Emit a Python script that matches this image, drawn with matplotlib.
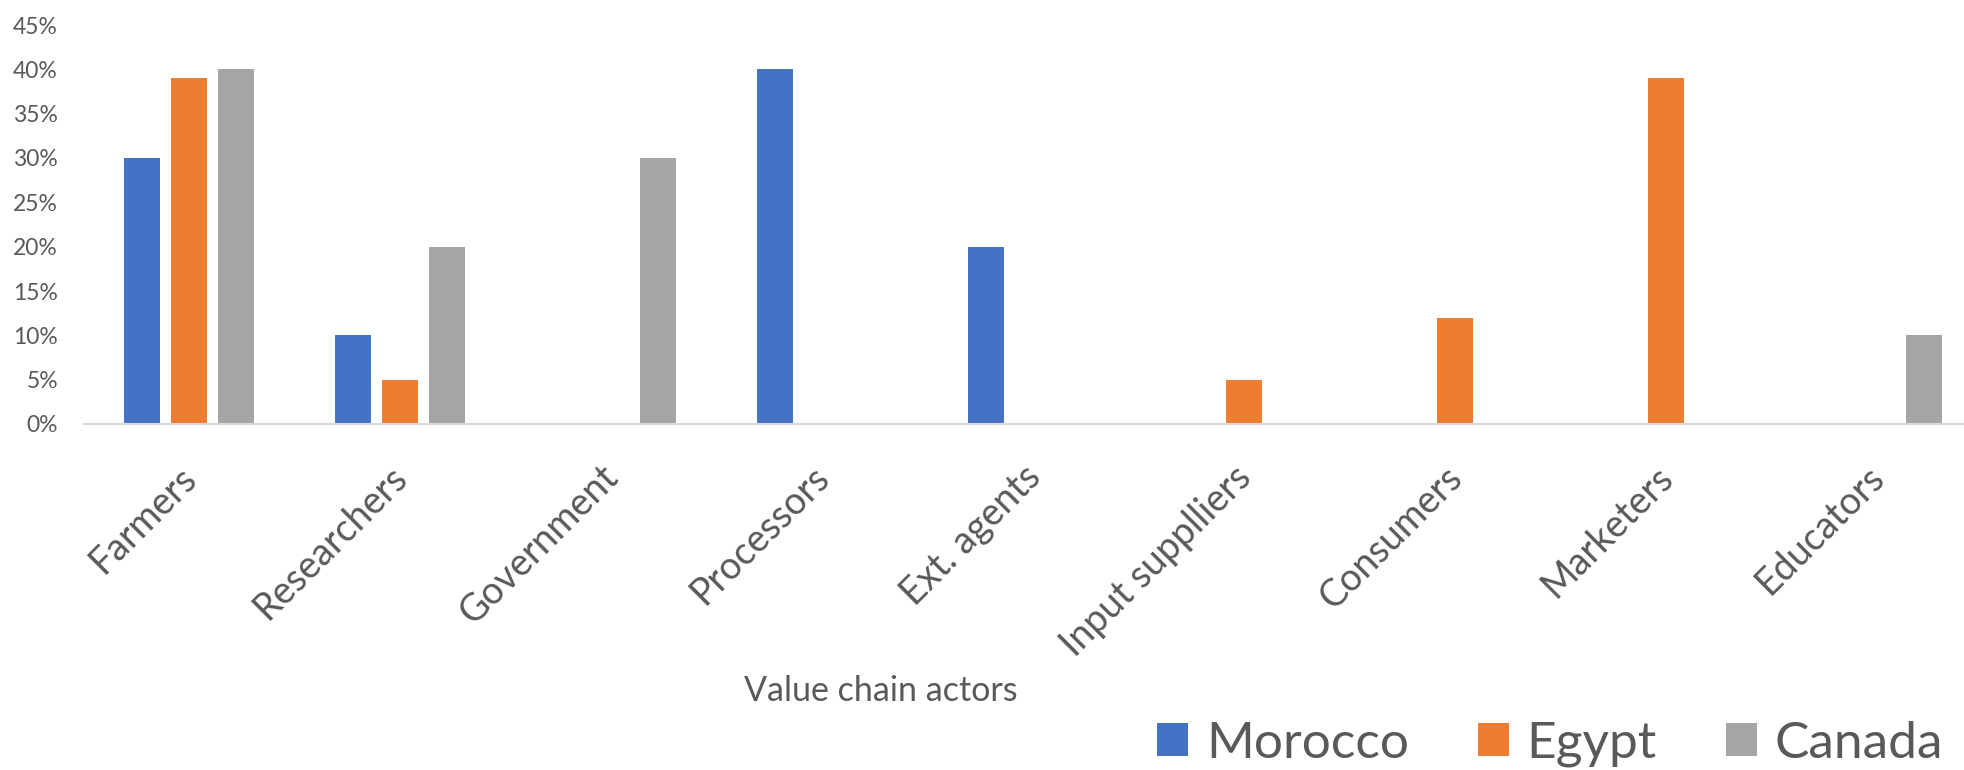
import matplotlib
matplotlib.use("Agg")
import matplotlib.pyplot as plt
import matplotlib.transforms as mtransforms
import numpy as np
from matplotlib.patches import Patch

categories = ["Farmers", "Researchers", "Government", "Processors", "Ext. agents",
              "Input supplliers", "Consumers", "Marketers", "Educators"]
series_names = ["Morocco", "Egypt", "Canada"]
morocco = [30, 10, 0, 40, 20, 0, 0, 0, 0]
egypt = [39, 5, 0, 0, 0, 5, 12, 39, 0]
canada = [40, 20, 30, 0, 0, 0, 0, 0, 10]
y_ticks = [0, 5, 10, 15, 20, 25, 30, 35, 40, 45]

colors = ["#4472C4", "#ED7D31", "#A5A5A5"]
text_color = "#595959"
plt.rcParams['font.family'] = ['Lato', 'DejaVu Sans']

W, H = 1964, 770
fig = plt.figure(figsize=(W / 100, H / 100), dpi=100)
left, right = 83.5 / W, 1982.5 / W
bottom, top = 1 - 424 / H, 1 - 25 / H
ax = fig.add_axes([left, bottom, right - left, top - bottom])

x = np.arange(len(categories))
bw = 0.175
off = 0.2227
for i, (vals, c) in enumerate(zip([morocco, egypt, canada], colors)):
    ax.bar(x + (i - 1) * off, vals, width=bw, color=c, zorder=2)

ax.set_xlim(-0.5, len(categories) - 0.5)
ax.set_ylim(0, 45)
ax.set_yticks(y_ticks)
ax.set_yticklabels([f"{v}%" for v in y_ticks], fontsize=16.5, color=text_color)
ax.tick_params(axis='y', length=0, pad=18.4)
ax.tick_params(axis='x', length=0, pad=8)
ax.set_xticks(x)
ax.set_xticklabels(categories, rotation=45, ha='right', va='top', rotation_mode='anchor',
                   fontsize=27, color=text_color)
shift = mtransforms.ScaledTranslation(-11 / 100, -24 / 100, fig.dpi_scale_trans)
for lab in ax.get_xticklabels():
    lab.set_transform(lab.get_transform() + shift)
for s in ['top', 'right', 'left']:
    ax.spines[s].set_visible(False)
ax.spines['bottom'].set_color('#D9D9D9')
ax.spines['bottom'].set_linewidth(1.5)
ax.spines['bottom'].set_zorder(3)

fig.text(881 / W, 1 - 691 / H, "Value chain actors", ha='center', va='center',
         fontsize=24.5, color=text_color)

handles = [Patch(facecolor=c, edgecolor='none') for c in colors]
leg = fig.legend(handles, series_names, loc='center right', bbox_to_anchor=(1943 / W, 1 - 744 / H),
                 ncol=3, frameon=False, fontsize=37, handlelength=0.6, handleheight=0.62,
                 handletextpad=0.35, columnspacing=1.34, labelcolor=text_color,
                 borderaxespad=0, borderpad=0)

fig.savefig("out.png", dpi=100)
